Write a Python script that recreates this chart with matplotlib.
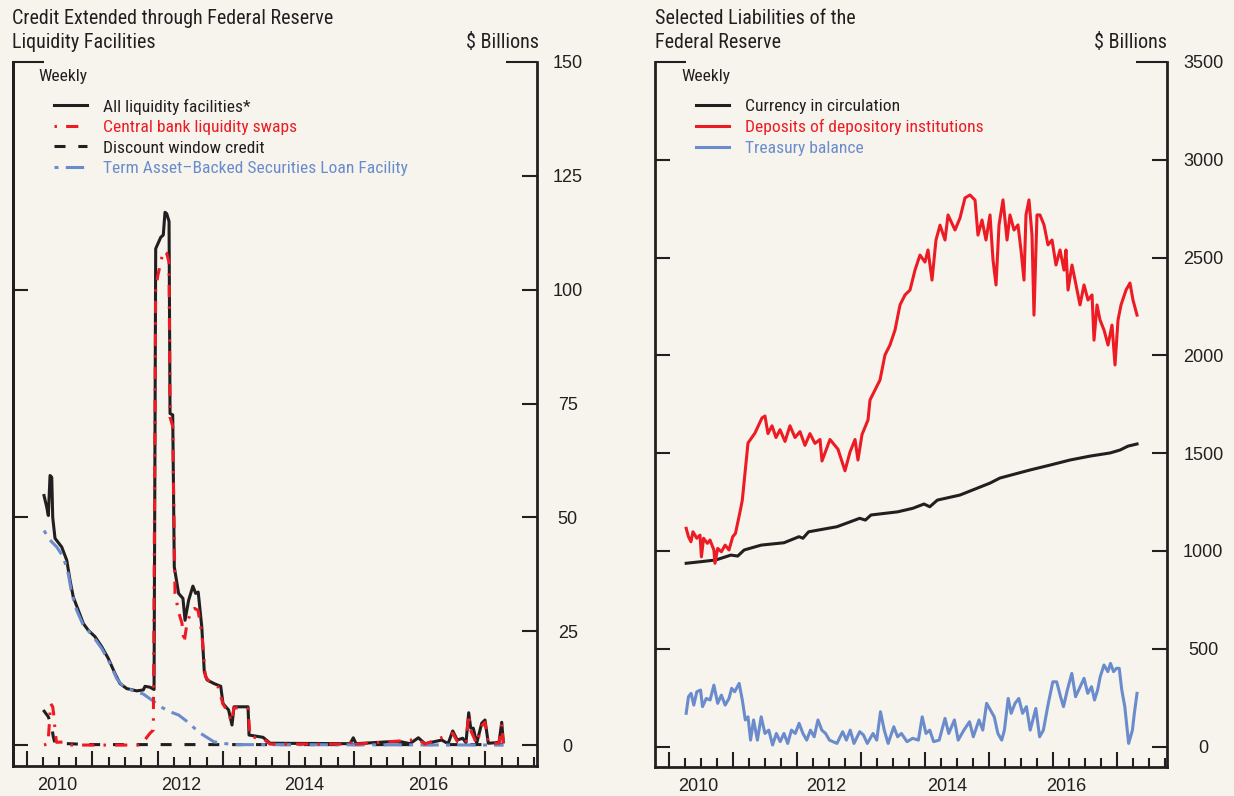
import matplotlib
matplotlib.use("Agg")
import matplotlib.pyplot as plt
from matplotlib.font_manager import FontProperties

BG = "#f7f4ed"
BLACK = "#231f20"
RED = "#ed1c24"
BLUE = "#6a8ccc"
NARROW = ["Roboto Condensed", "PT Sans Narrow", "Liberation Sans"]
plt.rcParams["font.family"] = ["Liberation Sans", "DejaVu Sans"]

# ---- left panel: credit extended (weekly, $ billions) ----
all_dates = [2010.264, 2010.305, 2010.330, 2010.356, 2010.382, 2010.397, 2010.432, 2010.534,
             2010.611, 2010.661, 2010.711, 2010.788, 2010.864, 2010.940, 2011.043, 2011.145,
             2011.246, 2011.348, 2011.424, 2011.527, 2011.679, 2011.780, 2011.806, 2011.882,
             2011.944, 2011.969, 2012.046, 2012.085, 2012.111, 2012.137, 2012.173, 2012.188,
             2012.229, 2012.253, 2012.319, 2012.385, 2012.417, 2012.472, 2012.537, 2012.580,
             2012.618, 2012.673, 2012.711, 2012.753, 2012.860, 2012.962, 2012.997, 2013.082,
             2013.134, 2013.165, 2013.379, 2013.394, 2013.608, 2013.715, 2014.936, 2014.986,
             2015.027, 2015.496, 2015.725, 2015.852, 2015.979, 2016.081, 2016.336, 2016.433,
             2016.504, 2016.574, 2016.656, 2016.706, 2016.748, 2016.779, 2016.818, 2016.870,
             2016.947, 2016.997, 2017.047, 2017.150, 2017.211, 2017.252, 2017.276]
all_vals = [54.8, 52.3, 50.4, 59.2, 58.8, 50.0, 45.4, 43.5,
            40.6, 36.2, 32.5, 29.6, 26.7, 25.2, 23.8, 21.6,
            19.0, 15.7, 13.5, 12.4, 11.9, 12.1, 12.9, 12.7,
            12.2, 109.0, 111.5, 112.0, 117.0, 116.7, 115.0, 72.8,
            72.5, 39.1, 33.3, 32.2, 27.4, 31.8, 34.9, 33.3,
            33.6, 25.9, 16.1, 14.3, 13.5, 12.9, 9.1, 7.7,
            4.4, 8.4, 8.4, 2.2, 1.7, 0.4, 0.3, 1.6,
            0.3, 0.7, 0.7, 0.3, 1.6, 0.3, 1.1, 0.3,
            3.1, 1.1, 1.5, 0.5, 7.1, 3.7, 3.7, 0.4,
            4.8, 5.5, 0.4, 0.5, 0.6, 5.0, 0.7]

swap_dates = [2010.264, 2010.325, 2010.366, 2010.397, 2010.417, 2010.432, 2010.455, 2010.600,
              2010.661, 2011.731, 2011.780, 2011.882, 2011.933, 2011.969, 2012.000, 2012.085,
              2012.137, 2012.173, 2012.188, 2012.229, 2012.264, 2012.319, 2012.371, 2012.402,
              2012.438, 2012.508, 2012.563, 2012.615, 2012.673, 2012.728, 2012.809, 2012.921,
              2012.997, 2013.082, 2013.125, 2013.165, 2013.379, 2013.409, 2013.600, 2013.715,
              2014.936, 2014.986, 2015.027, 2015.979, 2016.081, 2016.504, 2016.574, 2016.706,
              2016.748, 2016.779, 2016.870, 2016.947, 2016.997, 2017.047, 2017.211, 2017.252,
              2017.276]
swap_vals = [0.0, 0.3, 9.1, 8.4, 6.2, 3.3, 0.6, 0.7,
             0.0, 0.0, 0.7, 2.6, 3.3, 100.0, 103.0, 108.5,
             108.0, 106.0, 72.0, 70.0, 33.3, 29.2, 26.7, 22.4,
             25.9, 29.6, 30.0, 29.6, 24.6, 15.0, 13.6, 12.8,
             9.0, 7.0, 5.1, 8.2, 8.0, 1.8, 1.5, 0.2,
             0.2, 1.4, 0.2, 1.2, 0.2, 2.6, 0.8, 0.3,
             6.8, 3.2, 0.3, 4.2, 5.0, 0.3, 0.4, 4.6, 0.4]

dw_dates = [2010.253, 2010.330, 2010.382, 2010.406, 2010.432, 2010.814, 2010.890, 2010.936, 2017.270]
dw_vals = [7.7, 6.2, 4.0, 1.8, 0.4, 0.2, 0.7, 0.1, 0.1]

talf_dates = [2010.264, 2010.356, 2010.458, 2010.559, 2010.635, 2010.687, 2010.763, 2010.864,
              2011.017, 2011.145, 2011.272, 2011.374, 2011.475, 2011.627, 2011.780, 2011.908,
              2012.046, 2012.188, 2012.319, 2012.482, 2012.618, 2012.860, 2013.134, 2017.281]
talf_vals = [47.1, 45.0, 43.5, 41.3, 37.6, 33.3, 29.6, 26.3,
             23.8, 21.2, 17.9, 14.6, 12.8, 11.9, 11.2, 9.9,
             8.4, 7.3, 6.6, 4.8, 2.9, 0.7, 0.1, 0.0]

# ---- right panel: selected liabilities (weekly, $ billions) ----
cur_dates = [2010.264, 2010.489, 2010.727, 2010.963, 2011.069, 2011.170, 2011.436, 2011.792,
             2012.027, 2012.088, 2012.177, 2012.620, 2012.975, 2013.064, 2013.152, 2013.567,
             2013.803, 2013.980, 2014.070, 2014.188, 2014.542, 2015.011, 2015.167, 2015.636,
             2015.948, 2016.261, 2016.573, 2016.886, 2017.042, 2017.167, 2017.308]
cur_vals = [937, 945, 954, 979, 974, 1005, 1030, 1042,
            1073, 1065, 1098, 1124, 1167, 1158, 1184, 1200,
            1218, 1240, 1226, 1260, 1286, 1347, 1373, 1414,
            1439, 1465, 1485, 1501, 1516, 1536, 1547]

dep_dates = [2010.264, 2010.300, 2010.339, 2010.370, 2010.430, 2010.480, 2010.502, 2010.536,
             2010.595, 2010.636, 2010.697, 2010.714, 2010.756, 2010.814, 2010.873, 2010.933,
             2010.992, 2011.034, 2011.111, 2011.141, 2011.230, 2011.339, 2011.448, 2011.495,
             2011.542, 2011.605, 2011.667, 2011.730, 2011.808, 2011.886, 2011.964, 2012.042,
             2012.120, 2012.198, 2012.276, 2012.355, 2012.386, 2012.511, 2012.636, 2012.745,
             2012.823, 2012.902, 2012.948, 2013.011, 2013.105, 2013.136, 2013.292, 2013.370,
             2013.448, 2013.527, 2013.605, 2013.683, 2013.761, 2013.839, 2013.917, 2013.995,
             2014.042, 2014.105, 2014.167, 2014.230, 2014.308, 2014.355, 2014.464, 2014.542,
             2014.620, 2014.698, 2014.777, 2014.823, 2014.886, 2014.948, 2015.011, 2015.058,
             2015.105, 2015.152, 2015.214, 2015.277, 2015.323, 2015.386, 2015.448, 2015.495,
             2015.542, 2015.573, 2015.620, 2015.667, 2015.698, 2015.745, 2015.792, 2015.855,
             2015.917, 2015.980, 2016.042, 2016.105, 2016.167, 2016.198, 2016.230, 2016.292,
             2016.355, 2016.417, 2016.480, 2016.542, 2016.605, 2016.636, 2016.683, 2016.730,
             2016.792, 2016.855, 2016.917, 2016.964, 2017.011, 2017.058, 2017.136, 2017.198,
             2017.245, 2017.308]
dep_vals = [1116, 1073, 1047, 1098, 1065, 1081, 970, 1065,
            1039, 1056, 1005, 937, 1013, 996, 1030, 1005,
            1073, 1090, 1209, 1260, 1552, 1603, 1680, 1690,
            1600, 1640, 1580, 1620, 1560, 1640, 1580, 1610,
            1540, 1600, 1550, 1570, 1460, 1570, 1520, 1410,
            1505, 1570, 1465, 1595, 1670, 1772, 1874, 2002,
            2053, 2130, 2258, 2309, 2334, 2436, 2513, 2477,
            2539, 2385, 2590, 2666, 2590, 2718, 2641, 2702,
            2805, 2820, 2794, 2615, 2692, 2590, 2718, 2488,
            2360, 2667, 2795, 2590, 2718, 2641, 2667, 2539,
            2385, 2718, 2795, 2616, 2206, 2718, 2718, 2667,
            2565, 2590, 2462, 2539, 2436, 2539, 2334, 2462,
            2360, 2258, 2360, 2283, 2309, 2078, 2258, 2181,
            2130, 2053, 2155, 1951, 2181, 2258, 2334, 2370,
            2283, 2206]

tsy_dates = [2010.264, 2010.300, 2010.341, 2010.383, 2010.430, 2010.489, 2010.519, 2010.578,
             2010.638, 2010.697, 2010.756, 2010.814, 2010.873, 2010.933, 2010.975, 2011.022,
             2011.092, 2011.141, 2011.188, 2011.230, 2011.270, 2011.317, 2011.377, 2011.436,
             2011.495, 2011.555, 2011.614, 2011.673, 2011.733, 2011.792, 2011.850, 2011.909,
             2011.969, 2012.028, 2012.088, 2012.147, 2012.206, 2012.264, 2012.323, 2012.383,
             2012.442, 2012.502, 2012.620, 2012.709, 2012.767, 2012.827, 2012.886, 2012.975,
             2013.034, 2013.094, 2013.183, 2013.241, 2013.300, 2013.359, 2013.419, 2013.508,
             2013.567, 2013.627, 2013.714, 2013.803, 2013.892, 2013.952, 2014.011, 2014.070,
             2014.130, 2014.217, 2014.308, 2014.366, 2014.455, 2014.514, 2014.603, 2014.691,
             2014.750, 2014.839, 2014.898, 2014.958, 2015.017, 2015.077, 2015.134, 2015.194,
             2015.236, 2015.295, 2015.342, 2015.402, 2015.461, 2015.520, 2015.580, 2015.639,
             2015.727, 2015.786, 2015.845, 2015.922, 2015.992, 2016.053, 2016.113, 2016.159,
             2016.219, 2016.289, 2016.348, 2016.420, 2016.480, 2016.538, 2016.597, 2016.644,
             2016.692, 2016.733, 2016.792, 2016.852, 2016.894, 2016.941, 2016.988, 2017.030,
             2017.070, 2017.117, 2017.177, 2017.236, 2017.266, 2017.308]
tsy_vals = [170, 255, 272, 212, 280, 289, 204, 246,
            238, 314, 221, 263, 212, 246, 298, 280,
            323, 238, 136, 152, 33, 136, 33, 152,
            67, 84, 8, 67, 25, 67, 16, 84,
            67, 119, 67, 33, 84, 50, 136, 84,
            67, 33, 16, 76, 33, 84, 16, 76,
            59, 16, 67, 33, 178, 84, 16, 101,
            50, 67, 25, 42, 33, 152, 67, 84,
            25, 33, 144, 67, 136, 33, 84, 127,
            50, 136, 84, 221, 187, 152, 67, 33,
            84, 246, 170, 221, 246, 170, 204, 84,
            195, 50, 84, 221, 331, 331, 255, 204,
            289, 374, 255, 306, 349, 272, 306, 238,
            289, 357, 417, 383, 425, 383, 400, 400,
            289, 204, 16, 84, 170, 272]

year_labels = ["2010", "2012", "2014", "2016"]
left_label_pos = [2010.46, 2012.36, 2014.24, 2016.13]
right_label_pos = [2010.45, 2012.45, 2014.34, 2016.21]

W, H = 1234, 796
fig = plt.figure(figsize=(W / 100, H / 100), dpi=100, facecolor=BG)
ax1 = fig.add_axes([12.7 / W, 1 - 766 / H, 524 / W, 704 / H], facecolor=BG)
ax2 = fig.add_axes([655 / W, 1 - 766.7 / H, 512.3 / W, 704.7 / H], facecolor=BG)

LW = 2.2
l_all, = ax1.plot(all_dates, all_vals, color=BLACK, lw=LW, zorder=3)
l_dw, = ax1.plot(dw_dates, dw_vals, color=BLACK, lw=LW, ls=(0, (3.6, 4.2)), zorder=4)
l_talf, = ax1.plot(talf_dates, talf_vals, color=BLUE, lw=LW, ls=(0, (1.3, 2.4, 6, 2.4)), zorder=5)
l_swap, = ax1.plot(swap_dates, swap_vals, color=RED, lw=LW, ls=(0, (0.8, 3, 4, 3)), zorder=6)

l_cur, = ax2.plot(cur_dates, cur_vals, color=BLACK, lw=LW, zorder=3)
l_dep, = ax2.plot(dep_dates, dep_vals, color=RED, lw=LW, zorder=4)
l_tsy, = ax2.plot(tsy_dates, tsy_vals, color=BLUE, lw=LW, zorder=5)

ax1.set_xlim(2009.786, 2017.786)
ax1.set_ylim(-4.6, 150)
ax2.set_xlim(2009.777, 2017.781)
ax2.set_ylim(-103, 3500)

for ax, label_pos in [(ax1, left_label_pos), (ax2, right_label_pos)]:
    ax.spines["top"].set_visible(False)
    for s in ["left", "right", "bottom"]:
        ax.spines[s].set_linewidth(2.0)
        ax.spines[s].set_color(BLACK)
    ax.set_xticks(range(2010, 2018))
    ax.set_xticks([y + q / 4 for y in range(2010, 2018) for q in (1, 2, 3)], minor=True)
    ax.tick_params(axis="x", which="major", direction="in", length=11, width=1.5,
                   color=BLACK, labelbottom=False)
    ax.tick_params(axis="x", which="minor", direction="in", length=6.7, width=1.5,
                   color=BLACK, labelbottom=False)
    for pos, lab in zip(label_pos, year_labels):
        ax.annotate(lab, xy=(pos, 0), xycoords=("data", "axes fraction"),
                    xytext=(0, -14.4), textcoords="offset points",
                    ha="center", va="center", fontsize=13, color=BLACK)

# y axes
ax1.set_yticks([0, 25, 50, 75, 100, 125])
ax1.set_yticks([150], labels=["150"], minor=True)
ax1.tick_params(axis="y", which="major", direction="in", length=11, width=1.5, color=BLACK,
                left=False, right=True, labelleft=False, labelright=True, pad=22.3,
                labelsize=13, labelcolor=BLACK)
ax1.tick_params(axis="y", which="minor", direction="in", length=22.3, width=1.5, color=BLACK,
                left=True, right=True, labelleft=False, labelright=True, pad=22.3,
                labelsize=13, labelcolor=BLACK)
sec = ax1.secondary_yaxis("left")
sec.set_yticks([0, 50, 100])
sec.tick_params(direction="in", length=11, width=1.5, color=BLACK, labelleft=False)
sec.spines["left"].set_linewidth(2.0)

ax2.set_yticks(range(0, 3001, 500))
ax2.set_yticks([3500], labels=["3500"], minor=True)
ax2.tick_params(axis="y", which="major", direction="in", length=11, width=1.5, color=BLACK,
                left=True, right=True, labelleft=False, labelright=True, pad=25.9,
                labelsize=13, labelcolor=BLACK)
ax2.tick_params(axis="y", which="minor", direction="in", length=22.3, width=1.5, color=BLACK,
                left=True, right=True, labelleft=False, labelright=True, pad=25.9,
                labelsize=13, labelcolor=BLACK)

for ax in (ax1, ax2):
    for lab in ax.get_yticklabels() + ax.get_yticklabels(minor=True):
        lab.set_horizontalalignment("center")

# legends
leg_font = FontProperties(family=NARROW, size=12.6)
ax1.text(0.0495, 0.979, "Weekly", transform=ax1.transAxes, ha="left", va="center",
         fontproperties=leg_font, color=BLACK)
ax1.legend([l_all, l_swap, l_dw, l_talf],
           ["All liquidity facilities*", "Central bank liquidity swaps",
            "Discount window credit", "Term Asset\u2013Backed Securities Loan Facility"],
           loc="upper left", bbox_to_anchor=(0.078, 0.948), frameon=False, borderpad=0,
           borderaxespad=0, handlelength=1.9, handletextpad=0.92, labelspacing=0.3,
           prop=leg_font, labelcolor=[BLACK, RED, BLACK, BLUE])

ax2.text(0.0508, 0.979, "Weekly", transform=ax2.transAxes, ha="left", va="center",
         fontproperties=leg_font, color=BLACK)
ax2.legend([l_cur, l_dep, l_tsy],
           ["Currency in circulation", "Deposits of depository institutions", "Treasury balance"],
           loc="upper left", bbox_to_anchor=(0.080, 0.948), frameon=False, borderpad=0,
           borderaxespad=0, handlelength=1.9, handletextpad=0.92, labelspacing=0.3,
           prop=leg_font, labelcolor=[BLACK, RED, BLUE])

# titles
title_font = FontProperties(family=NARROW, size=14.5)
fig.text(12.5 / W, 1 - 19 / H, "Credit Extended through Federal Reserve", ha="left", va="center",
         fontproperties=title_font, color=BLACK)
fig.text(12.5 / W, 1 - 42.5 / H, "Liquidity Facilities", ha="left", va="center",
         fontproperties=title_font, color=BLACK)
fig.text(538.6 / W, 1 - 42.5 / H, "$ Billions", ha="right", va="center",
         fontproperties=title_font, color=BLACK)
fig.text(655 / W, 1 - 19 / H, "Selected Liabilities of the", ha="left", va="center",
         fontproperties=title_font, color=BLACK)
fig.text(655 / W, 1 - 42.5 / H, "Federal Reserve", ha="left", va="center",
         fontproperties=title_font, color=BLACK)
fig.text(1166.5 / W, 1 - 42.5 / H, "$ Billions", ha="right", va="center",
         fontproperties=title_font, color=BLACK)

fig.savefig("out.png", dpi=100, facecolor=BG)
